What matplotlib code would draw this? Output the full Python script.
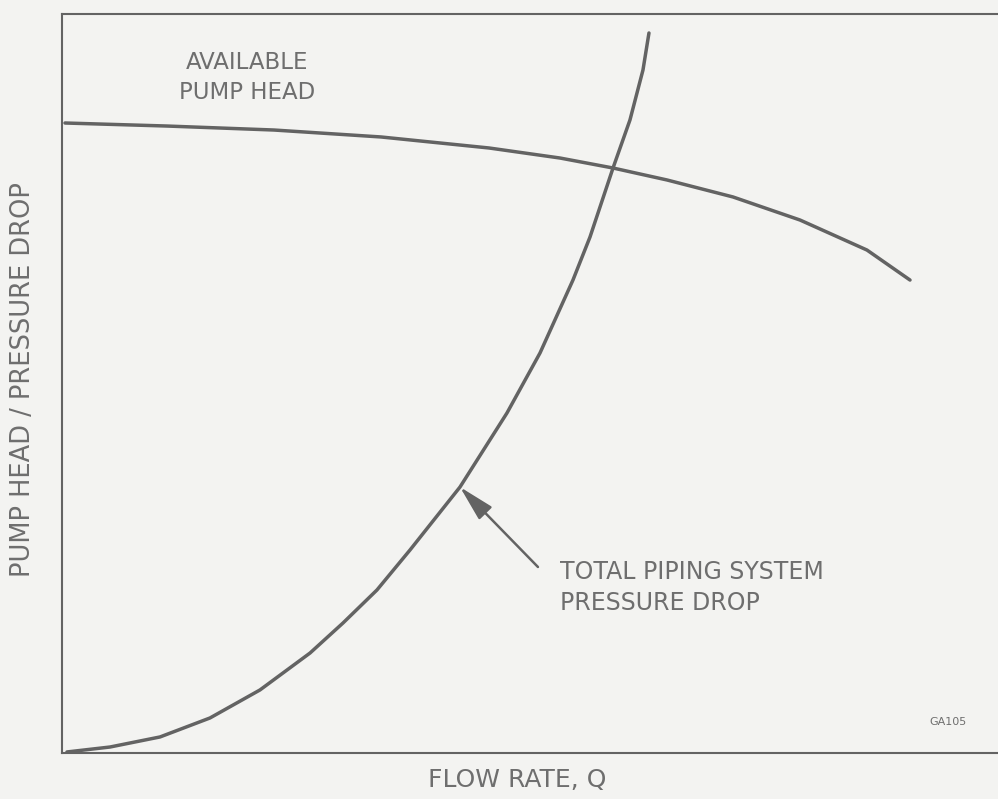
import matplotlib
matplotlib.use("Agg")
import matplotlib.pyplot as plt

# Values (arbitrary units, 0-100 on both axes)
pump_q = [0.32, 11.22, 22.65, 34.08, 45.62, 53.21, 58.87, 64.64, 71.69, 78.85, 86.00, 90.60]
pump_h = [85.25, 84.84, 84.30, 83.36, 81.87, 80.51, 79.16, 77.54, 75.24, 72.12, 68.06, 64.00]

sys_q = [0.53, 5.13, 10.47, 15.81, 21.15, 26.50, 30.02, 33.65, 37.18, 42.52,
         47.54, 51.07, 54.59, 56.41, 58.87, 60.68, 62.07, 62.71]
sys_dp = [0.14, 0.81, 2.17, 4.74, 8.53, 13.53, 17.59, 22.06, 27.47, 35.99,
          46.01, 54.13, 64.00, 69.82, 79.16, 85.66, 92.42, 97.43]

INK = "#636363"
TXT = "#6e6e6e"
BG = "#f3f3f1"

plt.rcParams["font.family"] = ["DejaVu Sans"]

fig = plt.figure(figsize=(9.98, 7.99), dpi=100, facecolor=BG)
ax = fig.add_axes([62 / 998, 46 / 799, 936 / 998, 739 / 799])
ax.set_facecolor(BG)
ax.set_xlim(0, 100)
ax.set_ylim(0, 100)
ax.set_xticks([])
ax.set_yticks([])
for side in ("left", "bottom", "top"):
    ax.spines[side].set_color(INK)
    ax.spines[side].set_linewidth(1.5)
ax.spines["right"].set_visible(False)

ax.plot(pump_q, pump_h, color=INK, linewidth=2.5,
        solid_capstyle="round", solid_joinstyle="round")
ax.plot(sys_q, sys_dp, color=INK, linewidth=2.5,
        solid_capstyle="round", solid_joinstyle="round")

ax.text(19.8, 91.4, "AVAILABLE\nPUMP HEAD", ha="center", va="center",
        fontsize=16.5, color=TXT, linespacing=1.35)

ax.annotate("", xy=(sys_q[9], sys_dp[9]), xytext=(50.85, 25.17),
            arrowprops=dict(arrowstyle="-|>,head_length=2.2,head_width=0.55",
                            color=INK, linewidth=1.8, shrinkA=0, shrinkB=0))
ax.text(53.2, 22.4, "TOTAL PIPING SYSTEM\nPRESSURE DROP", ha="left", va="center",
        fontsize=17, color=TXT, linespacing=1.35)

ax.text(94.66, 4.2, "GA105", ha="center", va="center", fontsize=8, color=TXT)

fig.text(517 / 998, 1 - 780 / 799, "FLOW RATE, Q", ha="center", va="center",
         fontsize=18, color=TXT)
fig.text(23 / 998, 1 - 380 / 799, "PUMP HEAD / PRESSURE DROP", ha="center",
         va="center", rotation=90, fontsize=18.5, color=TXT)

fig.savefig("out.png", dpi=100, facecolor=BG)
